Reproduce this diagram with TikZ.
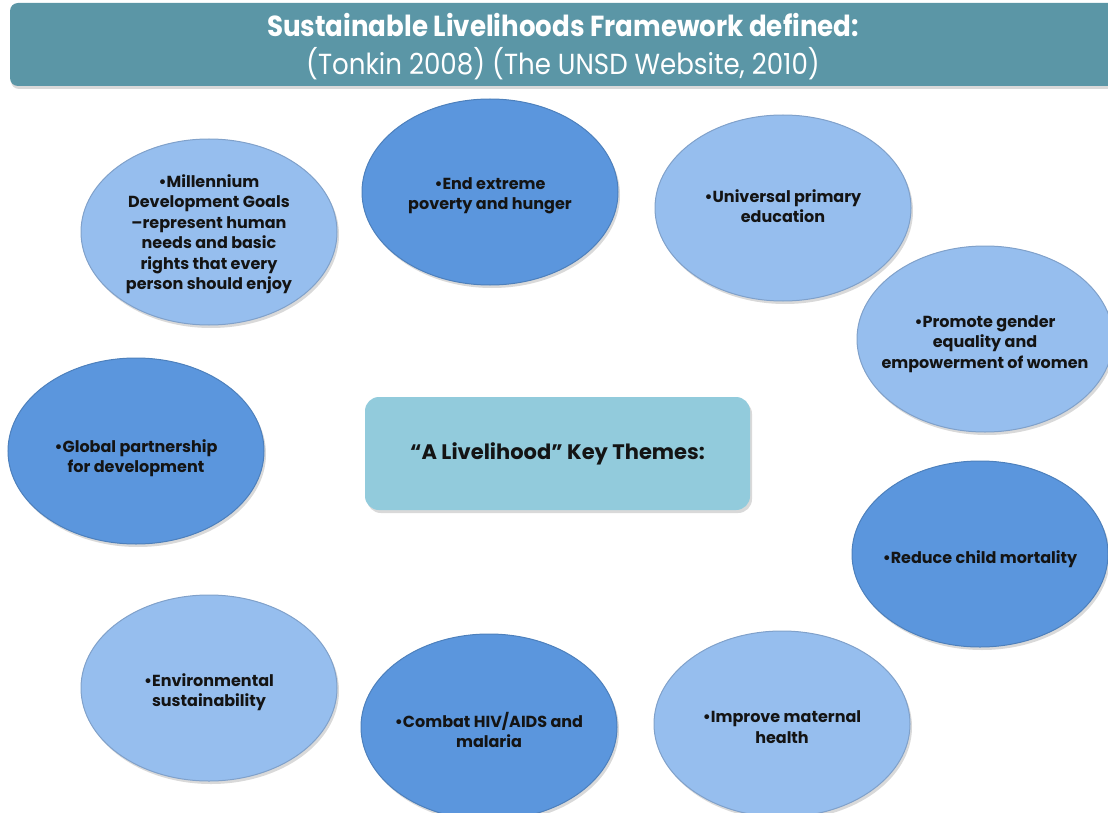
\documentclass[tikz,border=0pt]{standalone}
\usepackage{fontspec}
\setmainfont{Poppins}
\newfontfamily\titlefont[FakeStretch=0.90]{Poppins}
\usetikzlibrary{shapes.geometric,shadows}
\definecolor{titleteal}{RGB}{91,150,166}
\definecolor{goaldark}{RGB}{91,150,221}
\definecolor{goallight}{RGB}{150,190,238}
\definecolor{themebox}{RGB}{146,203,220}
\definecolor{goalink}{RGB}{20,20,20}

\begin{document}
\begin{tikzpicture}[x=1pt, y=-1pt,
    goal/.style={ellipse, minimum width=256pt, minimum height=186pt, inner sep=0pt,
                 line width=1pt, drop shadow={opacity=0.3, shadow xshift=2pt, shadow yshift=-3pt}},
    dark/.style={goal, fill=goaldark, draw=goaldark!85!black},
    light/.style={goal, fill=goallight, draw=goallight!85!black},
    goaltext/.style={align=center, text=goalink, inner sep=0pt,
                     font=\bfseries\fontsize{16}{20.5}\selectfont}]
    \useasboundingbox (0,0) rectangle (1108,813);

    % Title bar
    \node[fill=titleteal, rounded corners=8pt, minimum width=1110pt, minimum height=83pt,
          text=white, align=center, font=\titlefont\fontsize{29}{38}\selectfont,
          drop shadow={opacity=0.3, shadow xshift=1pt, shadow yshift=-3pt}]
        (title) at (565,44.5) {};
    \node[text=white, align=center, font=\titlefont\fontsize{29}{38}\selectfont]
        (title-t) at (563,47) {{\bfseries Sustainable Livelihoods Framework defined:}\\
                               (Tonkin 2008) (The UNSD Website, 2010)};

    % Goals
    \node[light] (mdg) at (209,232) {};
    \node[dark]  (poverty) at (490,192) {};
    \node[light] (education) at (783,208) {};
    \node[light] (gender) at (985,339) {};
    \node[dark]  (mortality) at (980,554) {};
    \node[light] (maternal) at (782,724) {};
    \node[dark]  (hiv) at (489,727) {};
    \node[light] (environment) at (209,688) {};
    \node[dark]  (partnership) at (136,451) {};

    % Goal texts
    \node[goaltext] (mdg-t) at ([yshift=-2pt]mdg) {•Millennium\\Development Goals\\–represent human\\needs and basic\\rights that every\\person should enjoy};
    \node[goaltext] (poverty-t) at ([yshift=-4pt]poverty) {•End extreme\\poverty and hunger};
    \node[goaltext] (education-t) at ([yshift=2pt]education) {•Universal primary\\education};
    \node[goaltext] (gender-t) at ([yshift=-5pt]gender) {•Promote gender\\equality and\\empowerment of women};
    \node[goaltext] (mortality-t) at ([yshift=-5pt]mortality) {•Reduce child mortality};
    \node[goaltext] (maternal-t) at ([yshift=-3pt]maternal) {•Improve maternal\\health};
    \node[goaltext] (hiv-t) at ([yshift=-3pt]hiv) {•Combat HIV/AIDS and\\malaria};
    \node[goaltext] (environment-t) at ([yshift=-4pt]environment) {•Environmental\\sustainability};
    \node[goaltext] (partnership-t) at ([yshift=-7pt]partnership) {•Global partnership\\for development};

    % Key themes
    \node[fill=themebox, rounded corners=14pt, minimum width=385pt, minimum height=113pt,
          text=goalink, font=\bfseries\fontsize{21}{25}\selectfont,
          drop shadow={opacity=0.3, shadow xshift=2pt, shadow yshift=-3pt}]
        (themes) at (557.5,453.5) {“A Livelihood” Key Themes:};
\end{tikzpicture}
\end{document}
